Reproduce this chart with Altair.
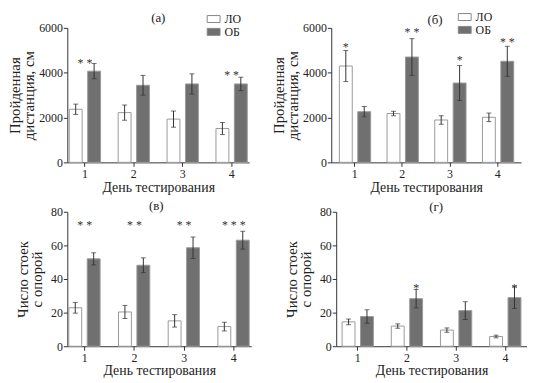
import altair as alt
import pandas as pd

days = [1, 2, 3, 4]
groups = ["ЛО", "ОБ"]

# panel (а): distance
a_lo = [2370, 2220, 1930, 1510]
a_lo_err = [230, 340, 360, 270]
a_ob = [4070, 3440, 3500, 3500]
a_ob_err = [340, 440, 450, 300]

# panel (б)
b_lo = [4300, 2180, 1890, 2010]
b_lo_err = [690, 100, 190, 190]
b_ob = [2260, 4700, 3540, 4510]
b_ob_err = [230, 820, 780, 670]

# panel (в): rearing
c_lo = [22.9, 20.4, 15.1, 11.7]
c_lo_err = [3.2, 3.9, 3.7, 2.6]
c_ob = [52.0, 48.2, 58.6, 63.1]
c_ob_err = [3.6, 4.4, 6.4, 5.3]

# panel (г)
d_lo = [14.5, 12.0, 9.6, 5.8]
d_lo_err = [1.7, 1.3, 1.3, 0.8]
d_ob = [17.7, 28.3, 21.2, 28.9]
d_ob_err = [4.0, 5.5, 5.3, 6.4]

# significance marks: (day, group or "", text, y)
a_stars = [(1, "", "* *", 4500), (4, "", "* *", 4000)]
b_stars = [(1, "ЛО", "*", 5250), (2, "ОБ", "* *", 5900), (3, "ОБ", "*", 4660), (4, "ОБ", "* *", 5460)]
c_stars = [(1, "", "* *", 73), (2, "", "* *", 73), (3, "", "* *", 73), (4, "", "* * *", 73)]
d_stars = [(2, "ОБ", "*", 35.7), (4, "ОБ", "*", 35.7)]

FONT = "Liberation Serif, Times New Roman, serif"
H = 136
INK = "#333333"


def make_df(lo, lo_err, ob, ob_err):
    rows = []
    for i, d in enumerate(days):
        rows.append({"day": d, "group": "ЛО", "v": lo[i], "lo": lo[i] - lo_err[i], "hi": lo[i] + lo_err[i]})
        rows.append({"day": d, "group": "ОБ", "v": ob[i], "lo": ob[i] - ob_err[i], "hi": ob[i] + ob_err[i]})
    return pd.DataFrame(rows)


def panel(lo, lo_err, ob, ob_err, stars, letter, letx, lety, ymax, yticks, ytitle,
          width, pouter, extent, tpad, show_legend, legx=0, legy=0):
    df = make_df(lo, lo_err, ob, ob_err)
    xaxis = alt.Axis(labelAngle=0, tickSize=4, labelPadding=2, titlePadding=1, titleFontSize=14)
    xscale = alt.Scale(paddingInner=0.36, paddingOuter=pouter)
    X = alt.X("day:O", title="День тестирования", scale=xscale, axis=xaxis)
    XO = alt.XOffset("group:N", scale=alt.Scale(domain=groups, paddingInner=0.3, paddingOuter=0))
    yscale = alt.Scale(domain=[0, ymax], nice=False)
    yaxis = alt.Axis(values=yticks, format="d", tickSize=4, labelPadding=1, titlePadding=tpad, grid=False,
                     titleFontSize=15, titleLineHeight=14, labelOverlap=False,
                     minExtent=extent, maxExtent=extent)

    def Y(field):
        return alt.Y(field, scale=yscale, axis=yaxis, title=ytitle)

    if show_legend:
        legend = alt.Legend(title=None, orient="none", legendX=legx, legendY=legy,
                            symbolType="M-1,-0.54H1V0.54H-1Z", symbolSize=169,
                            symbolStrokeColor="#888888", symbolStrokeWidth=1,
                            labelFont=FONT, labelFontSize=12, labelColor="#222222",
                            rowPadding=0, labelOffset=4, padding=0)
    else:
        legend = None
    bars = alt.Chart(df).mark_bar(stroke="#9a9a9a", strokeWidth=1).encode(
        x=X, xOffset=XO, y=Y("v:Q"),
        fill=alt.Fill("group:N", scale=alt.Scale(domain=groups, range=["#ffffff", "#707070"]), legend=legend),
    )
    rules = alt.Chart(df).mark_rule(color=INK, strokeWidth=1).encode(
        x=X, xOffset=XO, y=Y("lo:Q"), y2="hi:Q",
    )
    cap_lo = alt.Chart(df).mark_tick(color=INK, thickness=1, size=5, orient="horizontal").encode(
        x=X, xOffset=XO, y=Y("lo:Q"))
    cap_hi = alt.Chart(df).mark_tick(color=INK, thickness=1, size=5, orient="horizontal").encode(
        x=X, xOffset=XO, y=Y("hi:Q"))
    layers = [bars, rules, cap_lo, cap_hi]
    sdf = pd.DataFrame(stars, columns=["day", "group", "txt", "y"])
    grp = sdf[sdf.group != ""]
    mid = sdf[sdf.group == ""]
    if len(grp):
        layers.append(alt.Chart(grp).mark_text(font=FONT, fontSize=12, fill=INK, baseline="middle", dy=2).encode(
            x=X, xOffset=XO, y=Y("y:Q"), text="txt:N"))
    if len(mid):
        layers.append(alt.Chart(mid).mark_text(font=FONT, fontSize=12, fill=INK, baseline="middle", dy=2).encode(
            x=X, y=Y("y:Q"), text="txt:N"))
    lab = alt.Chart(pd.DataFrame({"t": [letter]})).mark_text(
        font=FONT, fontSize=13, fill="#222222", baseline="middle", align="center"
    ).encode(x=alt.value(letx), y=alt.value(lety), text="t:N")
    layers.append(lab)
    return alt.layer(*layers).properties(width=width, height=H)


pa = panel(a_lo, a_lo_err, a_ob, a_ob_err, a_stars, "(а)", 92, -10, 6000, [0, 2000, 4000, 6000],
           ["Пройденная", "дистанция, см"], 184, 0.04, 29, 2, True, 141, -16)
pb = panel(b_lo, b_lo_err, b_ob, b_ob_err, b_stars, "(б)", 105, -8, 6000, [0, 2000, 4000, 6000],
           ["Пройденная", "дистанция, см"], 192, 0.17, 29, 2, True, 128, -18)
pc = panel(c_lo, c_lo_err, c_ob, c_ob_err, c_stars, "(в)", 90, -6, 80, [0, 20, 40, 60, 80],
           ["Число стоек", "с опорой"], 186, 0.03, 20, 3, False)
pd_ = panel(d_lo, d_lo_err, d_ob, d_ob_err, d_stars, "(г)", 101, -5, 80, [0, 20, 40, 60, 80],
            ["Число стоек", "с опорой"], 193, 0.12, 20, 3, False)

top = alt.hconcat(pa, pb, spacing=23).resolve_legend(fill="independent")
bottom = alt.hconcat(pc, pd_, spacing=34)
chart = alt.vconcat(top, bottom, spacing=6).configure(
    padding=0, background="white", font=FONT,
).configure_view(stroke=None).configure_axis(
    labelFont=FONT, titleFont=FONT, labelFontSize=12, titleFontWeight="normal",
    labelColor="#222222", titleColor="#222222", domainColor=INK, tickColor=INK,
)

chart.save("out.html", embed_options={"renderer": "svg", "actions": False})
